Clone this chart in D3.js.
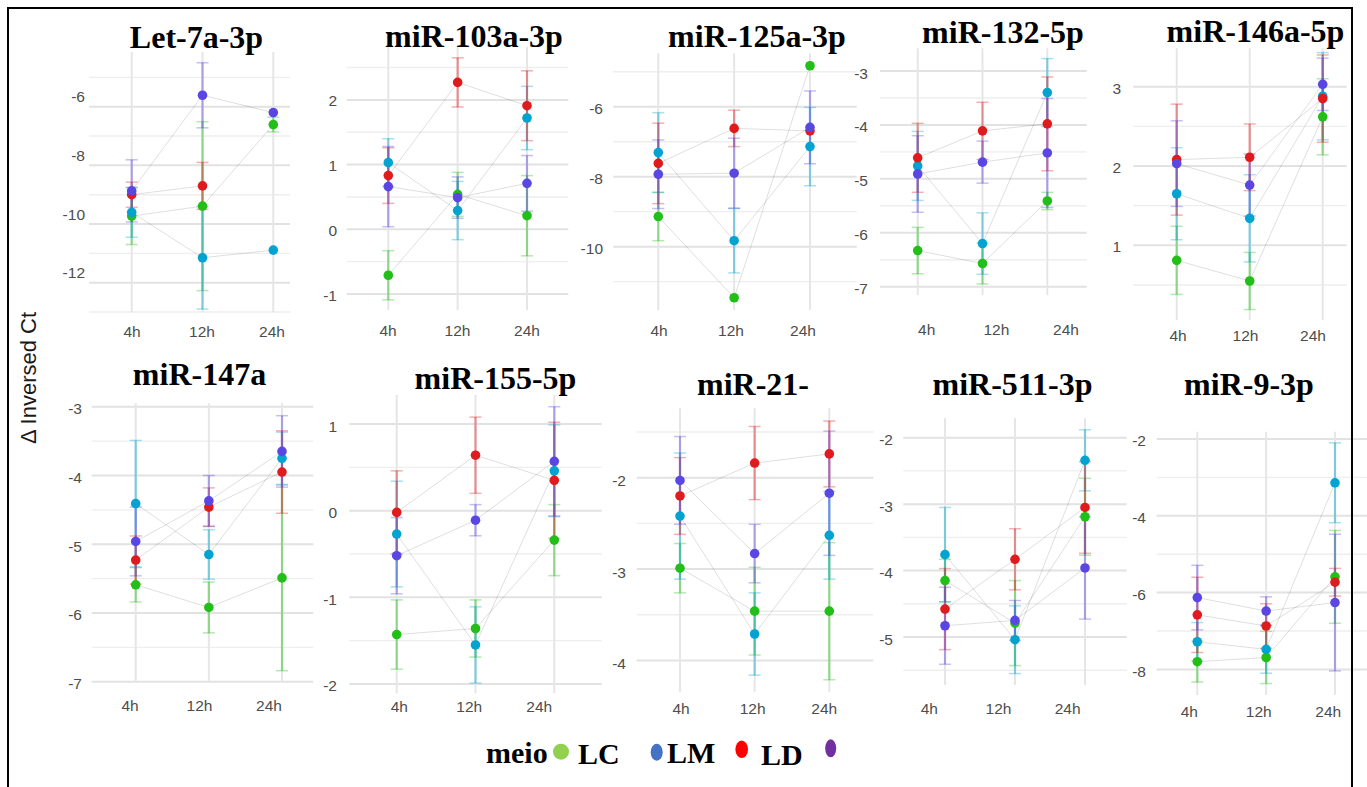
<!DOCTYPE html>
<html>
<head>
<meta charset="utf-8">
<script src="https://cdn.jsdelivr.net/npm/d3@7"></script>
<style>
body { margin: 0; background: #fff; }
svg { display: block; }
</style>
</head>
<body>
<svg id="chart" width="1367" height="787"></svg>
<script>
var times = ["4h", "12h", "24h"];
var groups = ["LC", "LM", "LD", ""];
var titles = ["Let-7a-3p", "miR-103a-3p", "miR-125a-3p", "miR-132-5p", "miR-146a-5p",
              "miR-147a", "miR-155-5p", "miR-21-", "miR-511-3p", "miR-9-3p"];

// rows: LC (green), LM (cyan), LD (red), 4th group (purple); cols: 4h, 12h, 24h
var let7a    = [[-9.73, -9.39, -6.61], [-9.6, -11.15, -10.89], [-9.0, -8.7, null], [-8.87, -5.61, -6.2]];
var let7aErr = [[0.97, 2.88, 0.25], [0.85, 1.75, 0], [0.43, 0.8, 0], [1.06, 1.11, 0]];

var mir103    = [[-0.71, 0.54, 0.21], [1.03, 0.29, 1.72], [0.83, 2.27, 1.91], [0.66, 0.49, 0.71]];
var mir103Err = [[0.38, 0.34, 0.62], [0.37, 0.45, 0.49], [0.43, 0.38, 0.54], [0.62, 0.32, 0.43]];

var mir125    = [[-9.14, -11.46, -4.83], [-7.31, -9.83, -7.14], [-7.62, -6.62, -6.69], [-7.93, -7.9, -6.59]];
var mir125Err = [[0.69, 0, 0], [1.14, 0.92, 1.12], [1.15, 0.52, 0], [0.98, 1.0, 1.04]];

var mir132    = [[-6.33, -6.57, -5.41], [-4.76, -6.2, -3.4], [-4.61, -4.11, -3.98], [-4.91, -4.69, -4.52]];
var mir132Err = [[0.43, 0.38, 0.16], [0.64, 0.57, 0.63], [0.64, 0.53, 0.87], [0.71, 0.39, 1.01]];

var mir146    = [[0.81, 0.55, 2.62], [1.65, 1.34, 2.88], [2.08, 2.11, 2.85], [2.03, 1.76, 3.03]];
var mir146Err = [[0.43, 0.36, 0.48], [0.58, 0.55, 0.55], [0.7, 0.42, 0.55], [0.54, 0.39, 0.33]];

var mir147    = [[-5.59, -5.92, -5.49], [-4.41, -5.15, -3.75], [-5.23, -4.46, -3.95], [-4.96, -4.37, -3.65]];
var mir147Err = [[0.25, 0.37, 1.35], [0.92, 0.36, 0.38], [0.35, 0.28, 0.6], [0.5, 0.37, 0.52]];

var mir155    = [[-1.43, -1.36, -0.34], [-0.27, -1.55, 0.46], [-0.02, 0.64, 0.35], [-0.52, -0.11, 0.57]];
var mir155Err = [[0.4, 0.33, 0.41], [0.61, 0.44, 0.53], [0.48, 0.44, 0.67], [0.44, 0.18, 0.63]];

var mir21    = [[-2.99, -3.46, -3.46], [-2.42, -3.71, -2.63], [-2.2, -1.84, -1.74], [-2.03, -2.83, -2.17]];
var mir21Err = [[0.27, 0.48, 0.75], [0.69, 0.45, 0.48], [0.42, 0.4, 0.36], [0.48, 0.32, 0.68]];

var mir511    = [[-4.15, -4.79, -3.19], [-3.76, -5.04, -2.34], [-4.58, -3.83, -3.05], [-4.83, -4.75, -3.96]];
var mir511Err = [[0.32, 0.64, 0.58], [0.71, 0.51, 0.46], [0.61, 0.46, 0.69], [0.58, 0.3, 0.77]];

var mir9    = [[-7.8, -7.69, -5.59], [-7.28, -7.48, -3.14], [-6.58, -6.87, -5.73], [-6.13, -6.48, -6.26]];
var mir9Err = [[0.53, 0.68, 1.21], [0.5, 0.62, 1.04], [0.98, 0.58, 0.36], [0.84, 0.37, 1.78]];

var means = [let7a, mir103, mir125, mir132, mir146, mir147, mir155, mir21, mir511, mir9];
var errs  = [let7aErr, mir103Err, mir125Err, mir132Err, mir146Err, mir147Err, mir155Err, mir21Err, mir511Err, mir9Err];

var colors = ["#21bf17", "#03a3d1", "#e01b1e", "#5a46e2"];
var legendColors = ["#92d050", "#4472c4", "#ff0000", "#7030a0"];

// where each (pasted) panel sits in the figure
var layout = [
  {x0: 89,    x1: 290,    xa: 131.7,  xb: 273.3,  top: 52,    bot: 312.3, lo: -13.01, hi: -4.135, major: 2, minor: 1,   lx: 85,   ldy: -10, xla: 132,    xlb: 272,    xly: 331.7, tx: 196.5,  ty: 48},
  {x0: 346.7, x1: 568.3,  xa: 388.3,  xb: 527,    top: 46.7,  bot: 310,   lo: -1.247, hi: 2.822,  major: 1, minor: 0.5, lx: 337,  ldy: 1,   xla: 388,    xlb: 527,    xly: 330,   tx: 474,    ty: 46.7},
  {x0: 613.3, x1: 856.7,  xa: 658.3,  xb: 810,    top: 53.3,  bot: 310,   lo: -11.81, hi: -4.474, major: 2, minor: 1,   lx: 603,  ldy: 1.5, xla: 659,    xlb: 803,    xly: 330,   tx: 757,    ty: 46.7},
  {x0: 880,   x1: 1086.7, xa: 917.7,  xb: 1047.3, top: 48.3,  bot: 295,   lo: -7.154, hi: -2.579, major: 1, minor: 0.5, lx: 868,  ldy: 2,   xla: 926.7,  xlb: 1066,   xly: 329.3, tx: 1003,   ty: 43.3},
  {x0: 1133.3,x1: 1346.7, xa: 1176.7, xb: 1322.7, top: 48.3,  bot: 320,   lo: 0.058,  hi: 3.484,  major: 1, minor: 0.5, lx: 1121, ldy: 1.5, xla: 1178,   xlb: 1313,   xly: 335,   tx: 1255.5, ty: 41.7},
  {x0: 91.7,  x1: 313.3,  xa: 135.7,  xb: 282,    top: 403.3, bot: 681.7, lo: -7.0,   hi: -2.95,  major: 1, minor: 0.5, lx: 82,   ldy: 2,   xla: 130,    xlb: 269,    xly: 705,   tx: 199.5,  ty: 385},
  {x0: 349.3, x1: 601.7,  xa: 396.7,  xb: 554.3,  top: 395,   bot: 693.3, lo: -2.108, hi: 1.335,  major: 1, minor: 0.5, lx: 337,  ldy: 2,   xla: 399.3,  xlb: 539.3,  xly: 706.7, tx: 495.5,  ty: 389.3},
  {x0: 636.7, x1: 873.3,  xa: 680,    xb: 829.3,  top: 408.3, bot: 691.7, lo: -4.341, hi: -1.241, major: 1, minor: 0.5, lx: 626,  ldy: 3,   xla: 681,    xlb: 824.3,  xly: 708.3, tx: 753,    ty: 395},
  {x0: 903.3, x1: 1126.7, xa: 945,    xb: 1085,   top: 418.3, bot: 685,   lo: -5.722, hi: -1.708, major: 1, minor: 0.5, lx: 893,  ldy: 2,   xla: 929.3,  xlb: 1067.7, xly: 708.3, tx: 1012.5, ty: 395},
  {x0: 1156.7,x1: 1367,   xa: 1197.3, xb: 1335,   top: 431.7, bot: 695,   lo: -8.667, hi: -1.81,  major: 2, minor: 1,   lx: 1146, ldy: 2,   xla: 1189.3, xlb: 1328.3, xly: 711.7, tx: 1249,   ty: 395}
];

var svg = d3.select("#chart");
svg.append("rect").attr("width", 1367).attr("height", 787).attr("fill", "#fff");

var sansFont = "'Liberation Sans', Arial, sans-serif";
var serifFont = "'Liberation Serif', 'Times New Roman', serif";

layout.forEach(function(L, i) {
    var g = svg.append("g").attr("class", "panel");

    var x = d3.scalePoint().domain(times).range([L.xa, L.xb]);
    var xLab = d3.scalePoint().domain(times).range([L.xla, L.xlb]);
    var y = d3.scaleLinear().domain([L.lo, L.hi]).range([L.bot, L.top]);

    // grid
    var ticks = d3.range(Math.ceil(L.lo / L.minor - 1e-6) * L.minor, L.hi + 1e-6, L.minor);
    var isMajor = function(t) { return Math.abs(t / L.major - Math.round(t / L.major)) < 1e-6; };

    g.selectAll("line.hgrid").data(ticks).enter().append("line")
        .attr("class", "hgrid")
        .attr("x1", L.x0).attr("x2", L.x1)
        .attr("y1", function(d) { return y(d); })
        .attr("y2", function(d) { return y(d); })
        .attr("stroke", function(d) { return isMajor(d) ? "#e2e2e2" : "#eeeeee"; })
        .attr("stroke-width", function(d) { return isMajor(d) ? 2 : 1.4; });

    g.selectAll("line.vgrid").data(times).enter().append("line")
        .attr("class", "vgrid")
        .attr("x1", function(d) { return x(d); })
        .attr("x2", function(d) { return x(d); })
        .attr("y1", L.top).attr("y2", L.bot)
        .attr("stroke", "#e6e6e6").attr("stroke-width", 2);

    // y tick labels
    g.selectAll("text.ytick").data(ticks.filter(isMajor)).enter().append("text")
        .attr("class", "ytick")
        .attr("x", L.lx)
        .attr("y", function(d) { return y(d) + L.ldy; })
        .attr("text-anchor", "end")
        .attr("dominant-baseline", "central")
        .attr("font-family", sansFont).attr("font-size", 15.5)
        .attr("fill", "#4d4d4d")
        .text(function(d) { return d3.format("d")(d).replace("−", "-"); });

    // x tick labels
    g.selectAll("text.xtick").data(times).enter().append("text")
        .attr("class", "xtick")
        .attr("x", function(d) { return xLab(d); })
        .attr("y", L.xly)
        .attr("text-anchor", "middle")
        .attr("dominant-baseline", "central")
        .attr("font-family", sansFont).attr("font-size", 15.5)
        .attr("fill", "#4d4d4d")
        .text(function(d) { return d; });

    // title
    g.append("text")
        .attr("x", L.tx).attr("y", L.ty)
        .attr("text-anchor", "middle")
        .attr("font-family", serifFont).attr("font-weight", "bold")
        .attr("font-size", 32).attr("fill", "#000")
        .text(titles[i]);

    // one record per group and time
    var rows = groups.map(function(grp, k) {
        return times.map(function(t, j) {
            return {k: k, t: t, v: means[i][k][j], e: errs[i][k][j]};
        });
    });

    var line = d3.line()
        .defined(function(d) { return d.v != null; })
        .x(function(d) { return x(d.t); })
        .y(function(d) { return y(d.v); });

    g.selectAll("path.trend").data(rows).enter().append("path")
        .attr("class", "trend")
        .attr("d", line)
        .attr("fill", "none")
        .attr("stroke", "#000")
        .attr("stroke-opacity", 0.13)
        .attr("stroke-width", 1);

    var flat = d3.merge(rows).filter(function(d) { return d.v != null; });
    var bars = flat.filter(function(d) { return d.e > 0; });

    var eb = g.selectAll("g.err").data(bars).enter().append("g").attr("class", "err")
        .attr("stroke", function(d) { return colors[d.k]; });
    eb.append("line")
        .attr("x1", function(d) { return x(d.t); })
        .attr("x2", function(d) { return x(d.t); })
        .attr("y1", function(d) { return y(d.v + d.e); })
        .attr("y2", function(d) { return y(d.v - d.e); })
        .attr("stroke-width", 2.2).attr("stroke-opacity", 0.45);
    eb.selectAll("line.cap").data(function(d) { return [d.v + d.e, d.v - d.e].map(function(c) { return {t: d.t, c: c}; }); })
        .enter().append("line").attr("class", "cap")
        .attr("x1", function(d) { return x(d.t) - 6; })
        .attr("x2", function(d) { return x(d.t) + 6; })
        .attr("y1", function(d) { return y(d.c); })
        .attr("y2", function(d) { return y(d.c); })
        .attr("stroke-width", 1.5).attr("stroke-opacity", 0.35);

    g.selectAll("circle.pt").data(flat).enter().append("circle")
        .attr("class", "pt")
        .attr("cx", function(d) { return x(d.t); })
        .attr("cy", function(d) { return y(d.v); })
        .attr("r", 4.8)
        .attr("fill", function(d) { return colors[d.k]; });
});

// y axis title
svg.append("text")
    .attr("transform", "translate(36,378) rotate(-90)")
    .attr("text-anchor", "middle")
    .attr("font-family", sansFont).attr("font-size", 22)
    .attr("fill", "#1a1a1a")
    .text("\u0394 Inversed Ct");

// legend
var legend = svg.append("g").attr("class", "legend");
legend.append("text")
    .attr("x", 486).attr("y", 763)
    .attr("font-family", serifFont).attr("font-weight", "bold").attr("font-size", 30)
    .text("meio");

var legendPos = [
    {cx: 561,   cy: 751.7, rx: 8,   ry: 8,   tx: 578, ty: 764},
    {cx: 656.7, cy: 752.3, rx: 6,   ry: 8.5, tx: 667, ty: 763},
    {cx: 741.7, cy: 749.3, rx: 6.3, ry: 8.7, tx: 761, ty: 765},
    {cx: 830.7, cy: 748.3, rx: 5.5, ry: 9,   tx: 845, ty: 765}
];
legendPos.forEach(function(p, k) {
    legend.append("ellipse")
        .attr("cx", p.cx).attr("cy", p.cy).attr("rx", p.rx).attr("ry", p.ry)
        .attr("fill", legendColors[k]);
    legend.append("text")
        .attr("x", p.tx).attr("y", p.ty)
        .attr("font-family", serifFont).attr("font-weight", "bold").attr("font-size", 30)
        .text(groups[k]);
});

// outer frame
svg.append("rect")
    .attr("x", 8).attr("y", 8).attr("width", 1344).attr("height", 800)
    .attr("fill", "none").attr("stroke", "#000").attr("stroke-width", 2);
</script>
</body>
</html>
